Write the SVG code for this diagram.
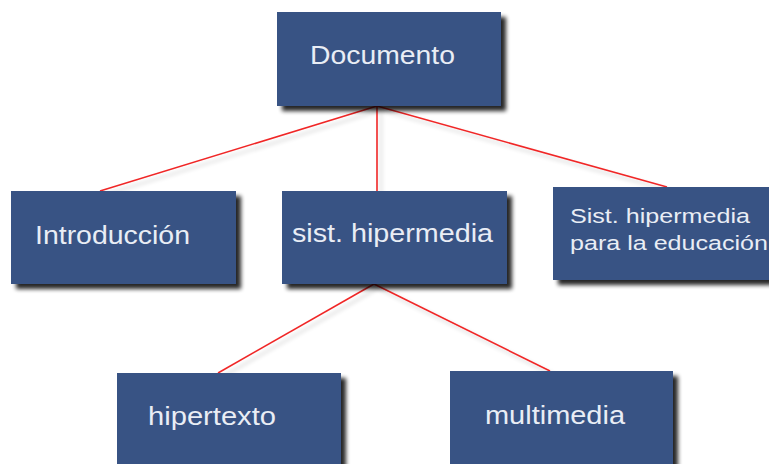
<svg xmlns="http://www.w3.org/2000/svg" width="769" height="464" viewBox="0 0 769 464">
<defs>
<filter id="sh" x="-10%" y="-10%" width="130%" height="130%">
<feGaussianBlur in="SourceAlpha" stdDeviation="2.2"/>
<feOffset dx="5" dy="5" result="b"/>
<feComponentTransfer><feFuncA type="linear" slope="0.85"/></feComponentTransfer>
<feMerge><feMergeNode/><feMergeNode in="SourceGraphic"/></feMerge>
</filter>
<filter id="lsh" x="-10%" y="-10%" width="130%" height="130%">
<feGaussianBlur in="SourceAlpha" stdDeviation="2"/>
<feOffset dx="4" dy="4"/>
<feComponentTransfer><feFuncA type="linear" slope="0.2"/></feComponentTransfer>
<feMerge><feMergeNode/><feMergeNode in="SourceGraphic"/></feMerge>
</filter>
</defs>
<style>
.box{fill:#395284;filter:url(#sh)}
.t{font-family:"Liberation Sans",Arial,sans-serif;font-size:25px;fill:#e9edf5}
.s{font-family:"Liberation Sans",Arial,sans-serif;font-size:20.5px;fill:#e9edf5}
.c{stroke:#f02828;stroke-width:1.6;fill:none}
</style>
<rect width="769" height="464" fill="#ffffff"/>
<g id="connectors" filter="url(#lsh)">
<line class="c" x1="377" y1="106" x2="100" y2="191"/>
<line class="c" x1="377" y1="106" x2="377" y2="191"/>
<line class="c" x1="377" y1="106" x2="667" y2="187"/>
<line class="c" x1="374" y1="284" x2="218" y2="373"/>
<line class="c" x1="374" y1="284" x2="550" y2="371"/>
</g>
<g id="documento">
<rect class="box" x="277" y="12" width="224" height="94"/>
<text class="t" x="310" y="64" textLength="145" lengthAdjust="spacingAndGlyphs">Documento</text>
</g>
<g id="introduccion">
<rect class="box" x="11" y="191" width="225" height="93"/>
<text class="t" x="35" y="244" textLength="155" lengthAdjust="spacingAndGlyphs">Introducción</text>
</g>
<g id="sist-hipermedia">
<rect class="box" x="282" y="191" width="225" height="93"/>
<text class="t" x="292" y="242" textLength="201" lengthAdjust="spacingAndGlyphs">sist. hipermedia</text>
</g>
<g id="sist-educacion">
<rect class="box" x="553" y="187" width="225" height="93"/>
<text class="s" x="570" y="223" textLength="180" lengthAdjust="spacingAndGlyphs">Sist. hipermedia</text>
<text class="s" x="570" y="250" textLength="198" lengthAdjust="spacingAndGlyphs">para la educación</text>
</g>
<g id="hipertexto">
<rect class="box" x="117" y="373" width="224" height="100"/>
<text class="t" x="148" y="425" textLength="128" lengthAdjust="spacingAndGlyphs">hipertexto</text>
</g>
<g id="multimedia">
<rect class="box" x="450" y="371" width="223" height="100"/>
<text class="t" x="485" y="424" textLength="140" lengthAdjust="spacingAndGlyphs">multimedia</text>
</g>
</svg>
